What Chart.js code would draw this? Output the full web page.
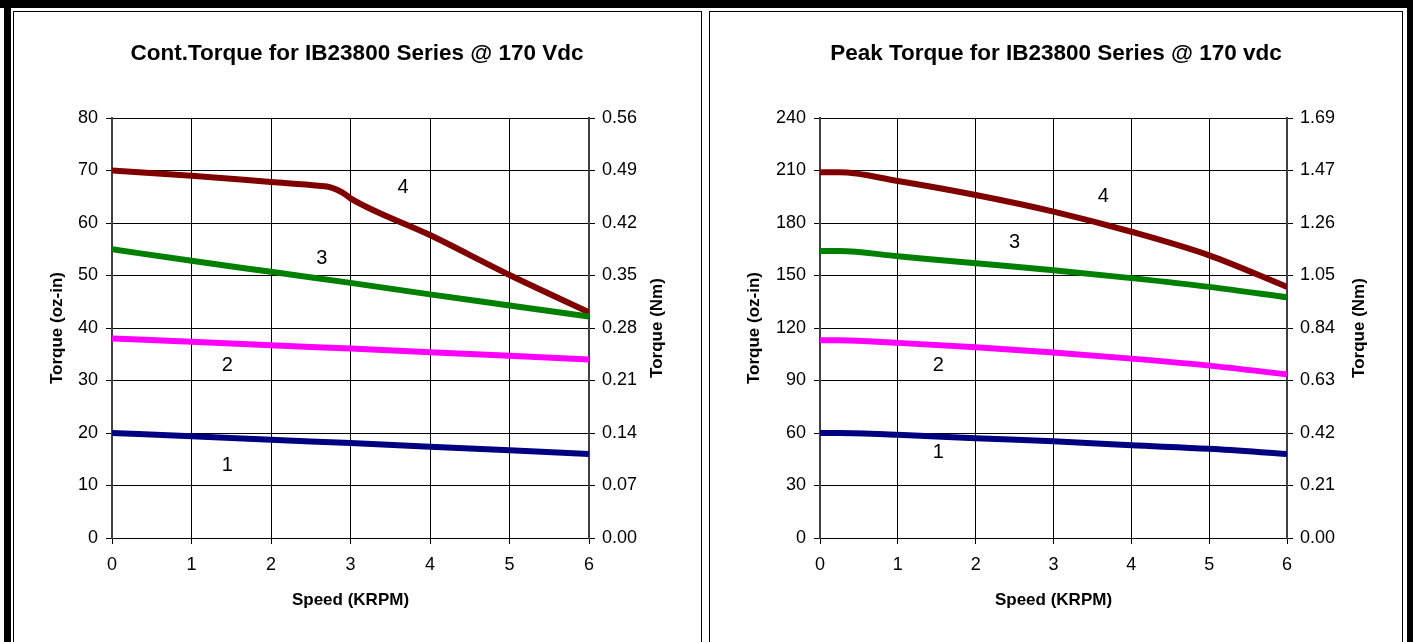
<!DOCTYPE html>
<html>
<head>
<meta charset="utf-8">
<script src="https://cdn.jsdelivr.net/npm/chart.js@4.4.0/dist/chart.umd.min.js"></script>
<style>
  html, body { margin: 0; padding: 0; background: #fff; }
  #page { position: relative; width: 1413px; height: 642px; overflow: hidden; background: #fff; }
  .band { position: absolute; background: #000; }
  .frame { position: absolute; border: 1px solid #000; border-bottom: none; }
  .box { position: absolute; }
</style>
</head>
<body>
<div id="page">
  <div class="band" style="left:0;top:0;width:1413px;height:8px"></div>
  <div class="band" style="left:4px;top:0;width:7px;height:642px"></div>
  <div class="band" style="left:1407px;top:0;width:6px;height:642px"></div>
  <div class="frame" style="left:13px;top:11px;width:687px;height:640px"></div>
  <div class="frame" style="left:709px;top:11px;width:692px;height:640px"></div>
  <div class="box" style="left:14px;top:12px;width:686px;height:630px"><canvas id="cont"></canvas></div>
  <div class="box" style="left:711px;top:12px;width:690px;height:630px"><canvas id="peak"></canvas></div>
</div>
<script>
// continuous torque curves (oz-in vs KRPM)
const contSpeed = [0, 1, 2, 3, 4, 5, 6];
const cont1 = [20, 19.4, 18.7, 18.1, 17.4, 16.7, 16];
const cont2 = [38, 37.4, 36.7, 36.1, 35.4, 34.7, 34];
const cont3 = [55, 52.8, 50.7, 48.6, 46.4, 44.3, 42.2];
const cont4Speed = [0, 1, 2, 2.6, 2.75, 2.9, 3, 4, 5, 6];
const cont4 = [70, 69, 67.8, 67.1, 66.8, 65.8, 64.7, 57.7, 50.1, 43];
const contNmLabels = ["0.00", "0.07", "0.14", "0.21", "0.28", "0.35", "0.42", "0.49", "0.56"];

// peak torque curves
const peakSpeed = [0, 0.25, 1, 2, 3, 4, 5, 6];
const peak1 = [60, 60, 59, 57, 55.3, 53, 51, 48];
const peak2 = [113, 113, 111.5, 109, 106, 102.5, 98.5, 93.5];
const peak3 = [164, 164, 161, 157, 153, 148.5, 143.5, 137.5];
const peak4 = [209, 209, 204, 196, 186.5, 175, 161.5, 143.5];
const peakNmLabels = ["0.00", "0.21", "0.42", "0.63", "0.84", "1.05", "1.26", "1.47", "1.69"];

const curveNames = ["1", "2", "3", "4"];
const curveColors = ["#000080", "#ff00ff", "#008000", "#800000"];

const FONT = "'Liberation Sans', Arial, sans-serif";

// numbers written beside each curve
const curveTags = {
  id: "curveTags",
  afterDatasetsDraw(chart, args, opts) {
    const ctx = chart.ctx;
    const xs = chart.scales.x, ys = chart.scales.y;
    ctx.save();
    ctx.font = "20px " + FONT;
    ctx.fillStyle = "#000";
    ctx.textAlign = "center";
    ctx.textBaseline = "middle";
    opts.tags.forEach((t, i) => {
      ctx.fillText(curveNames[i], xs.getPixelForValue(t[0]), ys.getPixelForValue(t[1]));
    });
    ctx.restore();
  }
};

// right axis title, reading bottom to top like the left one
const sideTitle = {
  id: "sideTitle",
  afterDraw(chart, args, opts) {
    const ctx = chart.ctx, a = chart.chartArea;
    ctx.save();
    ctx.translate(a.right + opts.offset, (a.top + a.bottom) / 2);
    ctx.rotate(-Math.PI / 2);
    ctx.font = "bold 17px " + FONT;
    ctx.fillStyle = "#000";
    ctx.textAlign = "center";
    ctx.textBaseline = "middle";
    ctx.fillText(opts.text, 0, 0);
    ctx.restore();
  }
};

function torqueChart(id, p) {
  const datasets = p.series.map((ys, i) => ({
    data: p.speeds[i].map((x, j) => ({ x: x, y: ys[j] })),
    borderColor: curveColors[i],
    borderWidth: 6,
    pointRadius: 0,
    cubicInterpolationMode: "monotone",
    fill: false
  }));
  return new Chart(document.getElementById(id), {
    type: "line",
    data: { datasets: datasets },
    options: {
      responsive: true,
      maintainAspectRatio: false,
      animation: false,
      layout: { padding: 0 },
      plugins: {
        legend: { display: false },
        tooltip: { enabled: false },
        title: {
          display: true,
          text: p.title,
          color: "#000",
          font: { family: FONT, size: 22.5, weight: "bold" },
          padding: { top: 28, bottom: 51 }
        },
        curveTags: { tags: p.tags },
        sideTitle: { text: "Torque (Nm)", offset: p.nmTitleOffset }
      },
      scales: {
        x: {
          type: "linear", min: 0, max: 6,
          ticks: { stepSize: 1, color: "#000", font: { family: FONT, size: 18 }, padding: 10 },
          grid: { color: "#000", tickLength: 6 },
          border: { color: "#000", width: 1 },
          title: { display: true, text: "Speed (KRPM)", color: "#000", font: { family: FONT, size: 17, weight: "bold" }, padding: { bottom: 31 } },
          afterFit: s => { s.height = 104; }
        },
        y: {
          min: 0, max: p.max,
          ticks: { stepSize: p.max / 8, color: "#000", font: { family: FONT, size: 18 }, padding: 8 },
          grid: { color: "#000", tickLength: 6 },
          border: { color: "#404040", width: 2 },
          title: { display: true, text: "Torque (oz-in)", color: "#000", font: { family: FONT, size: 17, weight: "bold" }, padding: { top: p.ozTitlePad } },
          afterFit: s => { s.width = p.leftW; }
        },
        y2: {
          position: "right",
          min: 0, max: p.max,
          ticks: {
            stepSize: p.max / 8, color: "#000", font: { family: FONT, size: 18 }, padding: 7,
            callback: (v, i) => p.nmLabels[i]
          },
          grid: { drawOnChartArea: false, color: "#000", tickLength: 6 },
          border: { color: "#404040", width: 2 },
          afterFit: s => { s.width = p.rightW; }
        }
      }
    },
    plugins: [curveTags, sideTitle]
  });
}

torqueChart("cont", {
  title: "Cont.Torque for IB23800 Series @ 170 Vdc",
  speeds: [contSpeed, contSpeed, contSpeed, cont4Speed],
  series: [cont1, cont2, cont3, cont4],
  max: 80,
  nmLabels: contNmLabels,
  tags: [[1.45, 13.9], [1.45, 32.8], [2.64, 53.3], [3.66, 66.7]],
  leftW: 98, rightW: 111, ozTitlePad: 33, nmTitleOffset: 68
});

torqueChart("peak", {
  title: "Peak Torque for IB23800 Series @ 170 vdc",
  speeds: [peakSpeed, peakSpeed, peakSpeed, peakSpeed],
  series: [peak1, peak2, peak3, peak4],
  max: 240,
  nmLabels: peakNmLabels,
  tags: [[1.52, 48.6], [1.52, 98.3], [2.5, 169], [3.64, 195.4]],
  leftW: 109, rightW: 114, ozTitlePad: 33, nmTitleOffset: 72
});
</script>
</body>
</html>
